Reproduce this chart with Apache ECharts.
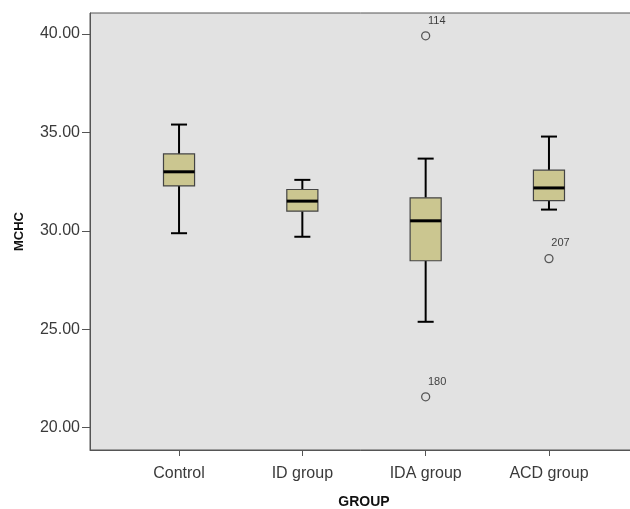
<!DOCTYPE html>
<html><head><meta charset="utf-8">
<script src="https://cdn.jsdelivr.net/npm/echarts@6/dist/echarts.min.js"></script>
<style>html,body{margin:0;padding:0;background:#fff}#c{width:630px;height:509px}</style>
</head><body><div id="c"></div>
<script>
var categories = ['Control', 'ID group', 'IDA group', 'ACD group'];
var whiskerLow = [29.88, 29.70, 25.38, 31.08];
var q1Vals = [32.28, 31.00, 28.48, 31.54];
var medianVals = [33.00, 31.51, 30.51, 32.18];
var q3Vals = [33.91, 32.10, 31.68, 33.08];
var whiskerHigh = [35.40, 32.59, 33.67, 34.79];
var outlierGroup = [3, 3, 4];
var outlierValues = [39.91, 21.57, 28.59];
var outlierIds = ['114', '180', '207'];
var yTicks = [20, 25, 30, 35, 40];

var boxData = categories.map(function (c, i) {
  return [i + 1, whiskerLow[i], q1Vals[i], medianVals[i], q3Vals[i], whiskerHigh[i]];
});
var outData = outlierValues.map(function (v, i) {
  return { value: [outlierGroup[i], v], label: { formatter: outlierIds[i] } };
});

var chart = echarts.init(document.getElementById('c'));
chart.setOption({
  animation: false,
  backgroundColor: '#ffffff',
  grid: { left: 90, right: -8, top: 13, bottom: 59, containLabel: false, outerBoundsMode: 'none',
    show: true, backgroundColor: '#e2e2e2', borderColor: '#555', borderWidth: 1 },
  xAxis: {
    type: 'value', min: 0.278, max: 4.722,
    name: 'GROUP', nameLocation: 'middle', nameGap: 45,
    nameTextStyle: { fontFamily: 'Liberation Sans', fontWeight: 'bold', fontSize: 14, color: '#111' },
    axisLine: { show: true, lineStyle: { color: '#555', width: 1 } },
    axisTick: { show: true, length: 6, customValues: [1, 2, 3, 4], lineStyle: { color: '#555' } },
    axisLabel: { customValues: [1, 2, 3, 4], margin: 16, fontFamily: 'Liberation Sans', fontSize: 16, color: '#3a3a3a',
      formatter: function (v) { return categories[Math.round(v) - 1] || ''; } },
    splitLine: { show: false }
  },
  yAxis: {
    type: 'value', min: 18.867, max: 41.067,
    name: 'MCHC', nameLocation: 'middle', nameGap: 64,
    nameTextStyle: { fontFamily: 'Liberation Sans', fontWeight: 'bold', fontSize: 13, color: '#111' },
    axisLine: { show: true, lineStyle: { color: '#555', width: 1 } },
    axisTick: { show: true, length: 8, customValues: yTicks, lineStyle: { color: '#555' } },
    axisLabel: { customValues: yTicks, margin: 10, fontFamily: 'Liberation Sans', fontSize: 16, color: '#3a3a3a',
      formatter: function (v) { return v.toFixed(2); } },
    splitLine: { show: false }
  },
  series: [{
    type: 'custom',
    data: boxData,
    encode: { x: 0, y: [1, 2, 3, 4, 5] },
    renderItem: function (params, api) {
      var x = api.value(0);
      var pLo = api.coord([x, api.value(1)]);
      var pQ1 = api.coord([x, api.value(2)]);
      var pMed = api.coord([x, api.value(3)]);
      var pQ3 = api.coord([x, api.value(4)]);
      var pHi = api.coord([x, api.value(5)]);
      var bw = api.size([0.252, 0])[0];
      var cw = api.size([0.13, 0])[0];
      var cx = pMed[0];
      var ws = { stroke: '#000', lineWidth: 2 };
      return {
        type: 'group',
        children: [
          { type: 'line', shape: { x1: cx, y1: pHi[1], x2: cx, y2: pQ3[1] }, style: ws },
          { type: 'line', shape: { x1: cx, y1: pQ1[1], x2: cx, y2: pLo[1] }, style: ws },
          { type: 'line', shape: { x1: cx - cw / 2, y1: pHi[1], x2: cx + cw / 2, y2: pHi[1] }, style: ws },
          { type: 'line', shape: { x1: cx - cw / 2, y1: pLo[1], x2: cx + cw / 2, y2: pLo[1] }, style: ws },
          { type: 'rect', shape: { x: cx - bw / 2, y: pQ3[1], width: bw, height: pQ1[1] - pQ3[1] },
            style: { fill: '#cbc690', stroke: '#444', lineWidth: 1.2 } },
          { type: 'line', shape: { x1: cx - bw / 2, y1: pMed[1], x2: cx + bw / 2, y2: pMed[1] }, style: { stroke: '#000', lineWidth: 3 } }
        ]
      };
    }
  }, {
    type: 'scatter',
    data: outData,
    symbol: 'circle', symbolSize: 8,
    itemStyle: { color: 'rgba(0,0,0,0)', borderColor: '#333', borderWidth: 1.3 },
    label: { show: true, position: [7, -16], fontFamily: 'Liberation Sans', fontSize: 11, color: '#111' }
  }]
});
</script></body></html>
